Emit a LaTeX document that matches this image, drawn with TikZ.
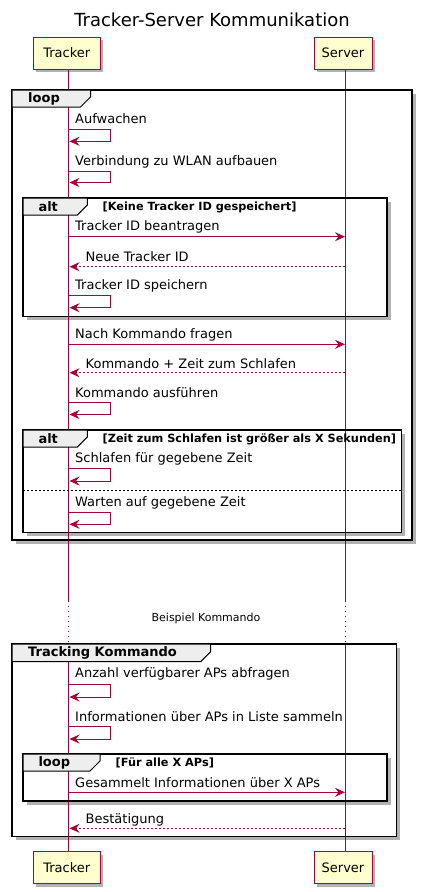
\documentclass[tikz,border=0pt]{standalone}
\usepackage{fontspec}
\setmainfont{DejaVu Sans}
\usepackage{tikz}
\usetikzlibrary{positioning, arrows.meta, shadows}
\definecolor{lifeRed}{HTML}{A80036}
\definecolor{partFill}{HTML}{FEFECE}
\definecolor{tabGray}{HTML}{EEEEEE}

\begin{document}
\begin{tikzpicture}[x=1pt, y=-1pt,
        every node/.style={inner sep=0pt, font=\fontsize{13}{15}\selectfont},
        participant/.style={rectangle, draw=lifeRed, fill=partFill, line width=1pt,
                            minimum height=32pt,
                            drop shadow={shadow xshift=3pt, shadow yshift=-3pt, opacity=0.3, fill=black}},
        lifeline/.style={lifeRed, line width=0.8pt},
        delayline/.style={lifeRed, line width=0.8pt, dash pattern=on 1pt off 4pt},
        framebg/.style={fill=white,
                        drop shadow={shadow xshift=3.5pt, shadow yshift=-3.5pt, opacity=0.3, fill=black}},
        frameline/.style={draw=black, line width=1.5pt},
        tabshape/.style={draw=black, fill=tabGray, line width=1pt},
        tablabel/.style={anchor=west, font=\fontsize{13}{15}\selectfont\bfseries},
        guard/.style={anchor=west, font=\fontsize{11.3}{13}\selectfont\bfseries},
        msglabel/.style={anchor=west},
        msg/.style={-{Stealth[length=10pt, width=9pt, inset=3.5pt]}, lifeRed, line width=1pt},
        reply/.style={msg, dash pattern=on 2pt off 2pt},
        divider/.style={black, line width=0.8pt, dash pattern=on 2pt off 2pt},
      ]
        \useasboundingbox (0,0) rectangle (421,892);

        % Title
        \node[font=\fontsize{18}{22}\selectfont] (title) at (212,20) {Tracker-Server Kommunikation};

        % Participants
        \node[participant, minimum width=67pt] (trackerTop) at (66.7,53) {Tracker};
        \node[participant, minimum width=58pt] (serverTop) at (343,53) {Server};
        \node[participant, minimum width=67pt] (trackerBot) at (66.7,867.5) {Tracker};
        \node[participant, minimum width=58pt] (serverBot) at (343,867.5) {Server};

        % Frame backgrounds (outer first)
        \path[framebg] (12,90) rectangle (412,540);
        \path[framebg] (23,198) rectangle (387,316.7);
        \path[framebg] (23,430) rectangle (401.5,532.7);
        \path[framebg] (12,644) rectangle (396.5,836.7);
        \path[framebg] (23,754) rectangle (387,801);

        % Lifelines
        \coordinate (tl0) at (68.5,69);
        \coordinate (tl1) at (68.5,601);
        \coordinate (tl2) at (68.5,643);
        \coordinate (tl3) at (68.5,852);
        \coordinate (sl0) at (345,69);
        \coordinate (sl1) at (345,601);
        \coordinate (sl2) at (345,643);
        \coordinate (sl3) at (345,852);
        \draw[lifeline] (tl0) -- (tl1);
        \draw[delayline] (tl1) -- (tl2);
        \draw[lifeline] (tl2) -- (tl3);
        \draw[lifeline] (sl0) -- (sl1);
        \draw[delayline] (sl1) -- (sl2);
        \draw[lifeline] (sl2) -- (sl3);

        % Outer loop frame
        \draw[frameline] (12,90) rectangle (412,540);
        \draw[tabshape] (12,90) -- (90.5,90) -- (90.5,97) -- (80.5,107) -- (12,107) -- cycle;
        \node[tablabel] (loopLbl) at (28,98.5) {loop};

        % alt: no tracker id
        \draw[frameline] (23,198) rectangle (387,316.7);
        \draw[tabshape] (23,198) -- (87.3,198) -- (87.3,205) -- (77.3,215) -- (23,215) -- cycle;
        \node[tablabel] (altLblA) at (38.3,206.5) {alt};
        \node[guard] (guardA) at (102.5,207) {[Keine Tracker ID gespeichert]};

        % alt: sleep time
        \draw[frameline] (23,430) rectangle (401.5,532.7);
        \draw[tabshape] (23,430) -- (87.3,430) -- (87.3,437) -- (77.3,447) -- (23,447) -- cycle;
        \node[tablabel] (altLblB) at (38.3,438.5) {alt};
        \node[guard] (guardB) at (102.5,439) {[Zeit zum Schlafen ist größer als X Sekunden]};
        \coordinate (divL) at (23,490.3);
        \coordinate (divR) at (401.5,490.3);
        \draw[divider] (divL) -- (divR);

        % Tracking Kommando frame
        \draw[frameline] (12,644) rectangle (396.5,836.7);
        \draw[tabshape] (12,644) -- (210.7,644) -- (210.7,651.7) -- (200.7,661.7) -- (12,661.7) -- cycle;
        \node[tablabel] (trackLbl) at (28,652.8) {Tracking Kommando};

        % inner loop
        \draw[frameline] (23,754) rectangle (387,801);
        \draw[tabshape] (23,754) -- (100,754) -- (100,761) -- (90,771) -- (23,771) -- cycle;
        \node[tablabel] (loopLblB) at (38.3,762.5) {loop};
        \node[guard] (guardC) at (115.5,762.5) {[Für alle X APs]};

        % Self messages
        \coordinate (wakeA) at (68.5,129);   \coordinate (wakeB) at (69.5,141.3);
        \node[msglabel] (wakeTxt) at (75,118.3) {Aufwachen};
        \draw[msg] (wakeA) -- ++(41.8,0) |- (wakeB);

        \coordinate (wlanA) at (68.5,171);   \coordinate (wlanB) at (69.5,182.5);
        \node[msglabel] (wlanTxt) at (75,161.7) {Verbindung zu WLAN aufbauen};
        \draw[msg] (wlanA) -- ++(41.8,0) |- (wlanB);

        \coordinate (saveA) at (68.5,295.7); \coordinate (saveB) at (69.5,307.7);
        \node[msglabel] (saveTxt) at (75,286) {Tracker ID speichern};
        \draw[msg] (saveA) -- ++(41.8,0) |- (saveB);

        \coordinate (execA) at (68.5,402.3); \coordinate (execB) at (69.5,414.5);
        \node[msglabel] (execTxt) at (75,392.7) {Kommando ausführen};
        \draw[msg] (execA) -- ++(41.8,0) |- (execB);

        \coordinate (sleepA) at (68.5,468.7); \coordinate (sleepB) at (69.5,481);
        \node[msglabel] (sleepTxt) at (75,459) {Schlafen für gegebene Zeit};
        \draw[msg] (sleepA) -- ++(41.8,0) |- (sleepB);

        \coordinate (waitA) at (68.5,512.7); \coordinate (waitB) at (69.5,524.3);
        \node[msglabel] (waitTxt) at (75,503) {Warten auf gegebene Zeit};
        \draw[msg] (waitA) -- ++(41.8,0) |- (waitB);

        \coordinate (countA) at (68.5,684.7); \coordinate (countB) at (69.5,697);
        \node[msglabel] (countTxt) at (75,674.3) {Anzahl verfügbarer APs abfragen};
        \draw[msg] (countA) -- ++(41.8,0) |- (countB);

        \coordinate (listA) at (68.5,726.3); \coordinate (listB) at (69.5,739);
        \node[msglabel] (listTxt) at (75,716.7) {Informationen über APs in Liste sammeln};
        \draw[msg] (listA) -- ++(41.8,0) |- (listB);

        % Messages between Tracker and Server
        \coordinate (reqT) at (68.5,236.7);  \coordinate (reqS) at (345,236.7);
        \node[msglabel] (reqTxt) at (75,227) {Tracker ID beantragen};
        \draw[msg] (reqT) -- (reqS);

        \coordinate (newS) at (345,266.7);   \coordinate (newT) at (69.5,266.7);
        \node[msglabel] (newTxt) at (85.5,256.7) {Neue Tracker ID};
        \draw[reply] (newS) -- (newT);

        \coordinate (askT) at (68.5,344.3);  \coordinate (askS) at (345,344.3);
        \node[msglabel] (askTxt) at (75,335) {Nach Kommando fragen};
        \draw[msg] (askT) -- (askS);

        \coordinate (cmdS) at (345,372.7);   \coordinate (cmdT) at (69.5,372.7);
        \node[msglabel] (cmdTxt) at (85.5,363.3) {Kommando + Zeit zum Schlafen};
        \draw[reply] (cmdS) -- (cmdT);

        \coordinate (infoT) at (68.5,792.3); \coordinate (infoS) at (345,792.3);
        \node[msglabel] (infoTxt) at (75,782.7) {Gesammelt Informationen über X APs};
        \draw[msg] (infoT) -- (infoS);

        \coordinate (ackS) at (345,828.3);   \coordinate (ackT) at (69.5,828.3);
        \node[msglabel] (ackTxt) at (85.5,820) {Bestätigung};
        \draw[reply] (ackS) -- (ackT);

        % Delay label
        \node[font=\fontsize{11}{13}\selectfont] (delayTxt) at (206,618) {Beispiel Kommando};
      \end{tikzpicture}
\end{document}
